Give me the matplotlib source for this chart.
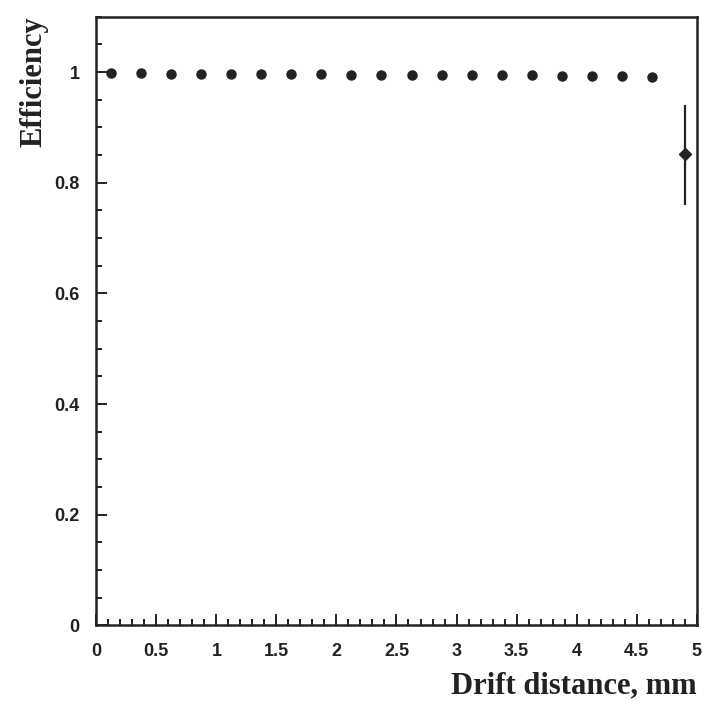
import numpy as np
import matplotlib.pyplot as plt
from matplotlib.ticker import MultipleLocator, FuncFormatter

# 데이터
drift_x = [0.125, 0.375, 0.625, 0.875, 1.125, 1.375, 1.625, 1.875, 2.125, 2.375,
           2.625, 2.875, 3.125, 3.375, 3.625, 3.875, 4.125, 4.375, 4.625]
eff_y = [0.998, 0.998, 0.997, 0.997, 0.997, 0.996, 0.996, 0.996, 0.995, 0.995,
         0.995, 0.995, 0.994, 0.994, 0.994, 0.993, 0.993, 0.993, 0.992]

last_x = [4.9]
last_y = [0.852]
last_err_lo = [0.092]
last_err_hi = [0.088]

x_ticks = [0, 0.5, 1, 1.5, 2, 2.5, 3, 3.5, 4, 4.5, 5]
y_ticks = [0, 0.2, 0.4, 0.6, 0.8, 1]

ink = '#222222'

fig = plt.figure(figsize=(7.03, 7.01), dpi=100)
ax = fig.add_axes([0.137, 0.108, 0.854, 0.868])

ax.plot(drift_x, eff_y, 'o', color=ink, markersize=6.5)
ax.errorbar(last_x, last_y, yerr=[last_err_lo, last_err_hi], fmt='D',
            color=ink, markersize=6.5, elinewidth=1.6, capsize=0)

ax.set_xlim(0, 5)
ax.set_ylim(0, 1.1)

ax.set_xticks(x_ticks)
ax.set_yticks(y_ticks)
ax.xaxis.set_minor_locator(MultipleLocator(0.1))
ax.yaxis.set_minor_locator(MultipleLocator(0.05))
ax.xaxis.set_major_formatter(FuncFormatter(lambda v, p: f'{v:g}'))
ax.yaxis.set_major_formatter(FuncFormatter(lambda v, p: f'{v:g}'))

ax.tick_params(which='both', direction='in', top=False, right=False, color=ink, width=1.4)
ax.tick_params(which='major', length=8)
ax.tick_params(which='minor', length=4)
ax.tick_params(axis='y', which='major', pad=12)
ax.tick_params(axis='x', which='major', pad=13)

for lab in ax.get_xticklabels() + ax.get_yticklabels():
    lab.set_fontfamily('Liberation Sans')
    lab.set_fontweight('bold')
    lab.set_fontsize(13)
    lab.set_color(ink)

for spine in ax.spines.values():
    spine.set_color(ink)
    spine.set_linewidth(1.8)

ax.set_xlabel('Drift distance, mm', family='Liberation Serif', fontweight='bold',
              fontsize=22, color=ink, loc='right')
ax.set_ylabel('Efficiency', family='Liberation Serif', fontweight='bold',
              fontsize=22, color=ink, loc='top')
ax.xaxis.set_label_coords(1.0, -0.075)
ax.yaxis.set_label_coords(-0.08, 1.0)

fig.savefig('out.png', dpi=100)
